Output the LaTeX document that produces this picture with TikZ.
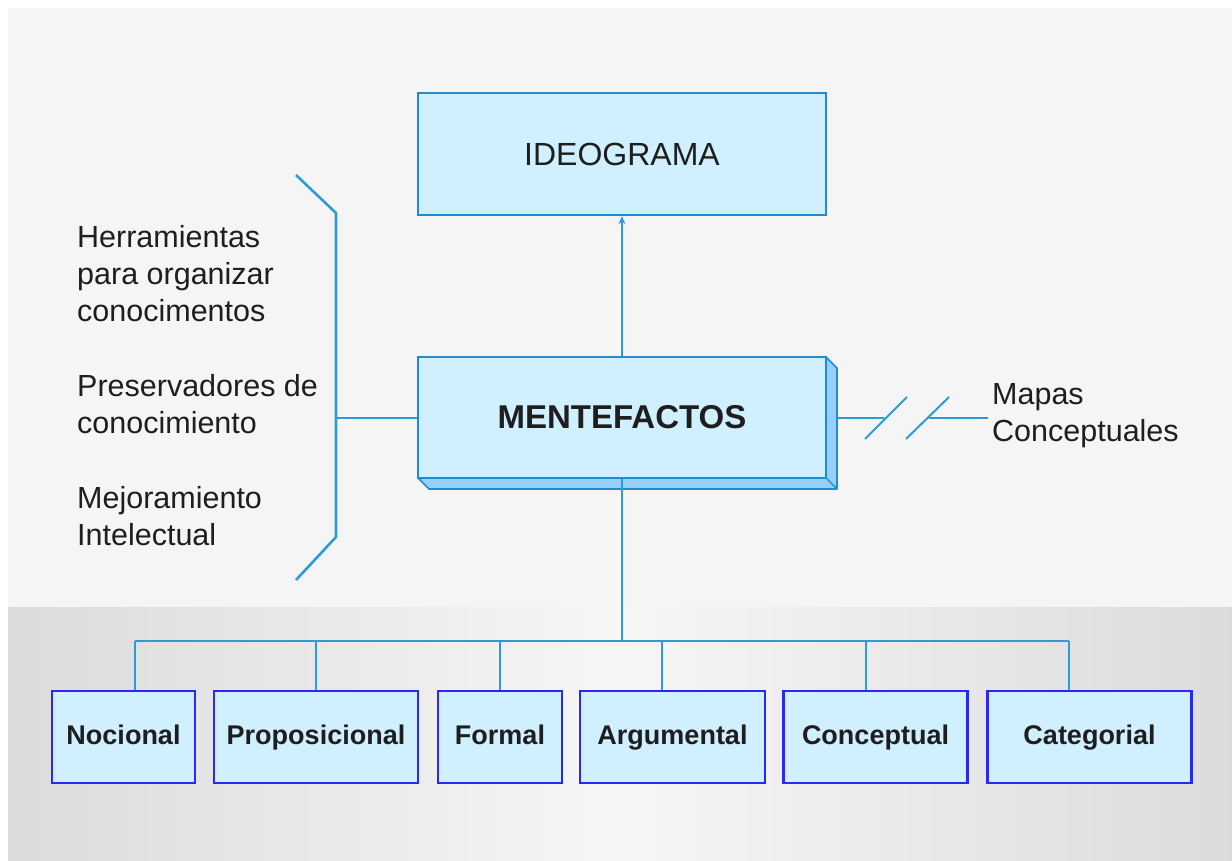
\documentclass[tikz,border=0pt]{standalone}
\usepackage{fontspec}
\setmainfont{Liberation Sans}
\usetikzlibrary{calc,arrows.meta}
\definecolor{boxfill}{RGB}{208,239,255}
\definecolor{sidefill}{RGB}{150,208,248}
\definecolor{topborder}{RGB}{30,140,210}
\definecolor{botborder}{RGB}{40,40,250}
\definecolor{linkcol}{RGB}{45,155,215}
\definecolor{txt}{RGB}{30,30,30}
\tikzset{
  bigbox/.style={draw=topborder, line width=2.4pt, fill=boxfill, minimum width=408pt, inner sep=0pt, text=txt},
  leafbox/.style={draw=botborder, line width=2.6pt, fill=boxfill, minimum height=92pt, inner sep=0pt, text=txt,
     text height=20pt, text depth=6pt,
     font=\fontsize{27}{30}\selectfont\bfseries},
  sidetext/.style={anchor=west, align=left, inner sep=0pt, text=txt, font=\fontsize{30.5}{37}\selectfont},
  link/.style={draw=linkcol, line width=2.6pt},
}
\begin{document}
\begin{tikzpicture}[x=1pt,y=-1pt]
\useasboundingbox (0,0) rectangle (1232,861);
% background
\fill[white] (0,0) rectangle (1232,861);
\fill[gray!8] (8,8) rectangle (1232,607);
\shade[left color=gray!28, right color=gray!28, middle color=gray!7] (8,607) rectangle (1232,861);

% main boxes
\node[bigbox, minimum height=122pt, font=\fontsize{32}{36}\selectfont] (ideo) at (622,154) {IDEOGRAMA};
\fill[sidefill, draw=topborder, line width=1.6pt, line join=round]
  (418,478) -- (429,489) -- (837,489) -- (837,368) -- (826,357) -- (826,478) -- cycle;
\draw[topborder, line width=1.2pt] (826,478) -- (837,489);
\node[bigbox, minimum height=121pt, font=\fontsize{33}{36}\selectfont\bfseries] (mente) at (622,417.5) {MENTEFACTOS};

% leaf boxes
\node[leafbox, minimum width=143pt] (noc) at (123.5,737) {Nocional};
\node[leafbox, minimum width=204pt] (prop) at (316,737) {Proposicional};
\node[leafbox, minimum width=124pt] (form) at (500,737) {Formal};
\node[leafbox, minimum width=185pt] (arg) at (672.5,737) {Argumental};
\node[leafbox, minimum width=184pt] (conc) at (875.5,737) {Conceptual};
\node[leafbox, minimum width=204pt] (cat) at (1089.5,737) {Categorial};

% side texts
\node[sidetext] (herr) at (77,273.5) {Herramientas\\para organizar\\conocimentos};
\node[sidetext] (pres) at (77,404) {Preservadores de\\conocimiento};
\node[sidetext] (mejo) at (77,516.5) {Mejoramiento\\Intelectual};
\node[sidetext] (mapas) at (992,416) {Mapas\\Conceptuales};

% arrow up to IDEOGRAMA
\draw[link, -{Stealth[length=8pt,width=7pt]}] (mente.north) -- (ideo.south);

% tree connectors
\coordinate (bm) at (622,641);
\coordinate (b1) at (135,641);
\coordinate (b2) at (316,641);
\coordinate (b3) at (500,641);
\coordinate (b4) at (662,641);
\coordinate (b5) at (866,641);
\coordinate (b6) at (1069,641);
\draw[link] (mente.south) -- (bm);
\draw[link] (b1) -- (b6);
\draw[link] (b1) -- (b1 |- noc.north);
\draw[link] (b2) -- (b2 |- prop.north);
\draw[link] (b3) -- (b3 |- form.north);
\draw[link] (b4) -- (b4 |- arg.north);
\draw[link] (b5) -- (b5 |- conc.north);
\draw[link] (b6) -- (b6 |- cat.north);

% bracket on the left
\coordinate (k1) at (296,175);
\coordinate (k2) at (336,213);
\coordinate (k3) at (336,537);
\coordinate (k4) at (296,580);
\coordinate (km) at (336,418);
\draw[link, line join=round] (k1) -- (k2) -- (k3) -- (k4);
\draw[link] (km) -- (km -| mente.west);

% broken link to Mapas Conceptuales
\coordinate (me) at (837,418);
\coordinate (g1) at (884,418);
\coordinate (g2) at (929,418);
\coordinate (s1a) at (865,439);
\coordinate (s1b) at (907,397);
\coordinate (s2a) at (906,439);
\coordinate (s2b) at (949,397);
\draw[link] (me) -- (g1);
\draw[link] (g2) -- ([xshift=-4pt]g2 -| mapas.west);
\draw[link, line width=2pt] (s1a) -- (s1b);
\draw[link, line width=2pt] (s2a) -- (s2b);
\end{tikzpicture}
\end{document}
